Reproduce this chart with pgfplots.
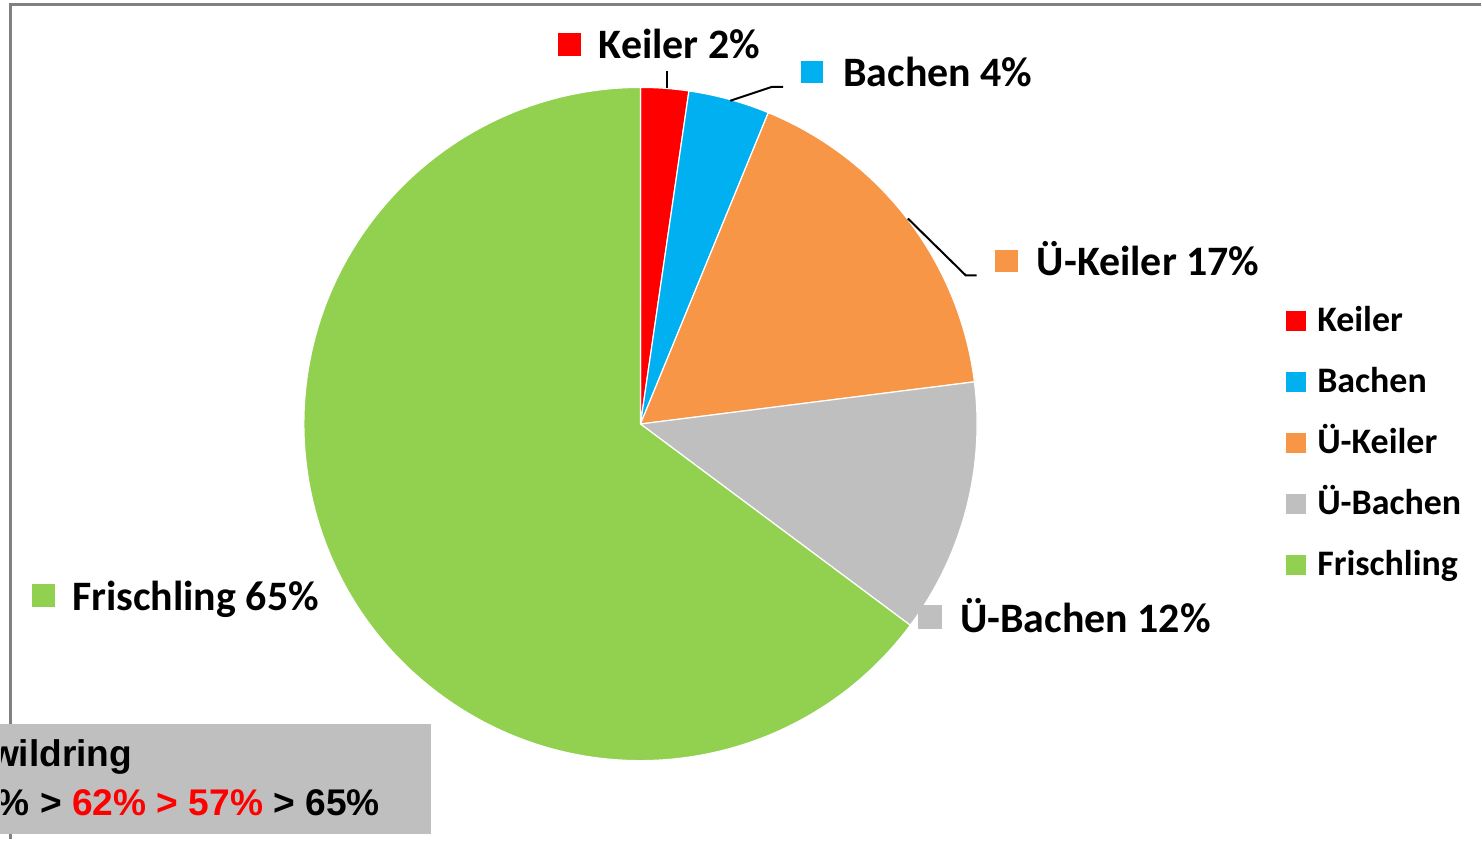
\documentclass[border=0pt]{standalone}
\usepackage{pgfplots}
\pgfplotsset{compat=1.18}
\usepackage{pgfplotstable}
\usepackage{fontspec}
\setmainfont{Carlito}
\newfontfamily\arial{Liberation Sans}
\definecolor{ckeiler}{HTML}{FF0000}
\definecolor{cbachen}{HTML}{00B0F0}
\definecolor{cukeiler}{HTML}{F79646}
\definecolor{cubachen}{HTML}{BFBFBF}
\definecolor{cfrisch}{HTML}{92D050}
\definecolor{frame}{HTML}{808080}
\definecolor{boxgray}{HTML}{BFBFBF}

% share of each group (percent), pie starts at 12 o'clock, clockwise
\pgfplotstableread{
name        value  shown  color
Keiler      2.3    2      ckeiler
Bachen      3.9    4      cbachen
Ü-Keiler    16.8   17     cukeiler
Ü-Bachen    12.2   12     cubachen
Frischling  64.8   65     cfrisch
}\piedata

\begin{document}
\begin{tikzpicture}
\begin{axis}[
  width=741pt, height=420.5pt, scale only axis,
  xmin=0, xmax=1482, ymin=0, ymax=841, y dir=reverse,
  hide axis, clip=false, at={(0,0)}, anchor=south west,
]
\path (axis cs:0,0) rectangle (axis cs:1482,841);
% frame
\draw[frame, line width=1.5pt] (axis cs:9,841) -- (axis cs:9,5) -- (axis cs:1482,5);
% pie slices
\def\cum{0}
\pgfplotsforeachungrouped \i in {0,...,4}{%
  \pgfplotstablegetelem{\i}{value}\of\piedata \let\pieval\pgfplotsretval
  \pgfplotstablegetelem{\i}{color}\of\piedata \let\piecol\pgfplotsretval
  \pgfmathsetmacro\sa{90-3.6*\cum}%
  \pgfmathsetmacro\ea{90-3.6*(\cum+\pieval)}%
  \edef\temp{\noexpand\fill[\piecol, draw=white, line width=0.6pt] (axis cs:640,425) -- ++(\sa:168.7pt) arc[start angle=\sa, end angle=\ea, radius=168.7pt] -- cycle;}%
  \temp
  \pgfmathsetmacro\cum{\cum+\pieval}%
}
% leader lines
\draw[black, line width=1pt] (axis cs:667,71) -- (axis cs:667,88);
\draw[black, line width=1pt] (axis cs:730,101) -- (axis cs:772,87) -- (axis cs:783,87);
\draw[black, line width=1pt] (axis cs:908,219) -- (axis cs:966,276) -- (axis cs:977,276);
% data labels
\fill[ckeiler] (axis cs:557,33) rectangle (axis cs:580,56);
\node[anchor=base west, inner sep=0, font=\fontsize{21}{25}\selectfont\bfseries] at (axis cs:598,59) {Keiler 2\%};
\fill[cbachen] (axis cs:801,61) rectangle (axis cs:823,83);
\node[anchor=base west, inner sep=0, font=\fontsize{21}{25}\selectfont\bfseries] at (axis cs:843,87) {Bachen 4\%};
\fill[cukeiler] (axis cs:995,251) rectangle (axis cs:1018,273);
\node[anchor=base west, inner sep=0, font=\fontsize{21}{25}\selectfont\bfseries] at (axis cs:1037,276) {Ü-Keiler 17\%};
\fill[cubachen] (axis cs:918,606) rectangle (axis cs:942,630);
\node[anchor=base west, inner sep=0, font=\fontsize{21}{25}\selectfont\bfseries] at (axis cs:960,634) {Ü-Bachen 12\%};
\fill[cfrisch] (axis cs:30,585) rectangle (axis cs:53,608);
\node[anchor=base west, inner sep=0, font=\fontsize{21}{25}\selectfont\bfseries] at (axis cs:70,612) {Frischling 65\%};
% legend
\pgfplotsforeachungrouped \i in {0,...,4}{%
  \pgfplotstablegetelem{\i}{name}\of\piedata \let\piename\pgfplotsretval
  \pgfplotstablegetelem{\i}{color}\of\piedata \let\piecol\pgfplotsretval
  \pgfmathsetmacro\yc{322+61.2*\i}%
  \pgfmathsetmacro\ya{\yc-10}%
  \pgfmathsetmacro\yb{\yc+10}%
  \edef\temp{\noexpand\fill[\piecol] (axis cs:1287,\ya) rectangle (axis cs:1307,\yb);
  \noexpand\node[anchor=base west, inner sep=0, font=\noexpand\fontsize{18}{22}\noexpand\selectfont\noexpand\bfseries] at (axis cs:1318,\yb) {\piename};}%
  \temp
}
% grey text box (cut at the left edge, as in the original)
\fill[boxgray] (axis cs:-2,726) rectangle (axis cs:430,836);
\begin{scope}
\clip (axis cs:0,700) rectangle (axis cs:440,841);
\node[overlay, anchor=base east, inner sep=0, font=\arial\bfseries\fontsize{18.6}{23}\selectfont] at (axis cs:131,768) {wildring};
\node[overlay, anchor=base east, inner sep=0, font=\arial\bfseries\fontsize{18.6}{23}\selectfont] at (axis cs:379,817) {\% > {\color{red}62\% > 57\%} > 65\%};
\end{scope}
\end{axis}
\end{tikzpicture}
\end{document}
